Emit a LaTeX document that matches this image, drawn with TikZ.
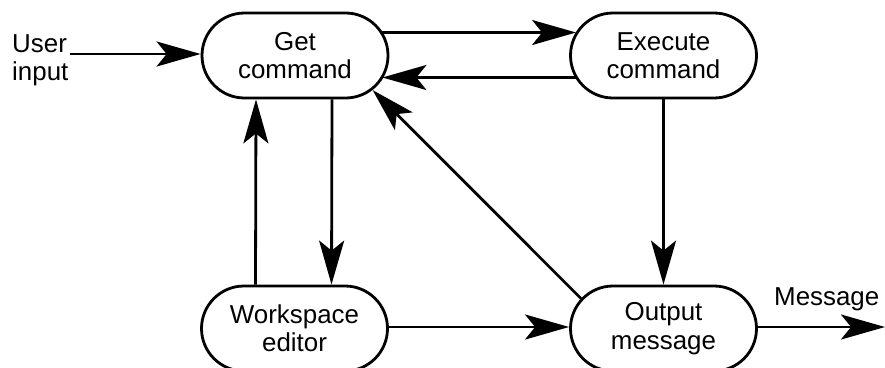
\documentclass[tikz,border=0pt]{standalone}
\usepackage{fontspec}
\setmainfont{Liberation Sans}
\usetikzlibrary{shapes.misc,arrows.meta}
\begin{document}
\begin{tikzpicture}[x=1bp,y=-1bp,
  stage/.style={rounded rectangle, draw, line width=2.8bp, fill=white,
    minimum width=186bp, minimum height=85bp, inner sep=0pt,
    align=center, font=\fontsize{26}{28.5}\selectfont},
  flow/.style={line width=2.8bp, -{Stealth[length=44bp,width=25bp,inset=10bp]}},
  lbl/.style={font=\fontsize{26}{28.5}\selectfont, inner sep=0pt}]
\useasboundingbox (0,0) rectangle (885,367);
\begin{scope}
\clip (0,0) rectangle (885,367);

\node[stage] (get) at (295,55.5) {Get\\command};
\node[stage] (exe) at (663.5,55.5) {Execute\\command};
\node[stage] (ws)  at (294.5,328.5) {Workspace\\editor};
\node[stage] (out) at (663.5,328.5) {Output\\message};

\node[lbl, align=left, anchor=west] (user) at (12,60) {User\\input};
\coordinate (userend) at (70,54);
\node[lbl, anchor=base west] (msg) at (774,305) {Message};
\coordinate (msgend) at (885,327);

% user input into the command loop
\draw[flow] (userend) -- (get.west |- userend);

% command dispatch and return
\draw[flow] ([xshift=-7bp,yshift=23bp]get.east) -- ([xshift=7bp,yshift=23bp]exe.west);
\draw[flow] ([xshift=7bp,yshift=-22bp]exe.west) -- ([xshift=-7bp,yshift=-22bp]get.east);

% workspace editor link
\draw[flow] ([xshift=-39bp]ws.north) -- ([xshift=-39bp]get.south);
\draw[flow] ([xshift=37bp]get.south) -- ([xshift=37bp]ws.north);

% results
\draw[flow] (exe.south) -- (out.north);
\draw[flow] (out.160) -- (get.-24);
\draw[flow] (ws.east |- msgend) -- (out.west |- msgend);
\draw[flow] (out.east |- msgend) -- (msgend);
\end{scope}
\end{tikzpicture}
\end{document}
